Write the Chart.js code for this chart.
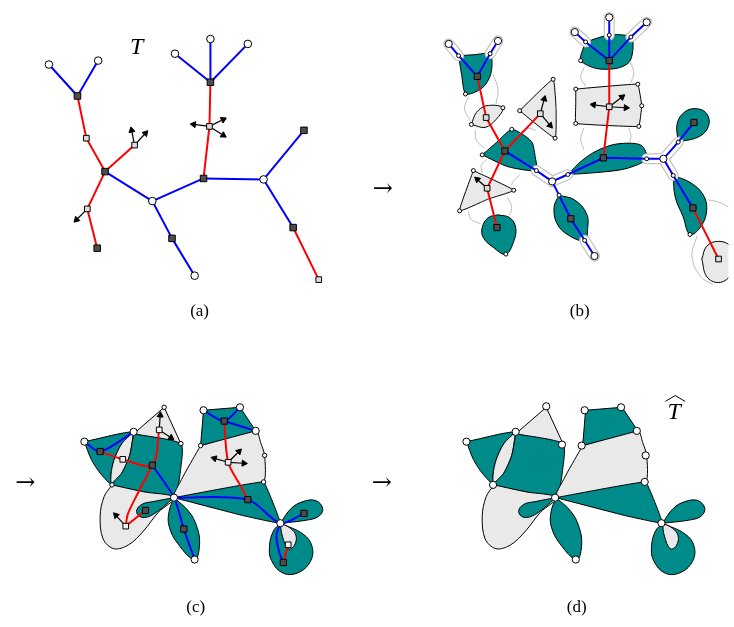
<!DOCTYPE html>
<html lang="en">
<head>
<meta charset="UTF-8">
<title>Tree to map</title>
<script src="https://cdn.jsdelivr.net/npm/chart.js"></script>
<style>
  html, body { margin: 0; padding: 0; background: #fff; }
  canvas { display: block; }
</style>
</head>
<body>
<canvas id="fig" width="734" height="627"></canvas>
<script>
// ---- panel (a): the tree T ----
const aWhite = [[44,60],[94,56],[149,199],[192,275],[172,49],[208,34],[246,39],[262,177]];
const aDark  = [[73,92],[101,169],[93,247],[169,237],[201,176],[208,78],[303,127],[292,226]];
const aLight = [[82,135],[131,142],[83,207],[207,123],[318,279]];
const aBlue = [
  [[44,60],[73,92]], [[94,56],[73,92]], [[101,169],[149,199]], [[149,199],[201,176]],
  [[149,199],[169,237]], [[169,237],[192,275]], [[201,176],[262,177]], [[262,177],[303,127]],
  [[262,177],[292,226]], [[208,78],[172,49]], [[208,78],[208,34]], [[208,78],[246,39]]
];
const aRed = [
  [[73,92],[82,135],[101,169]], [[101,169],[131,142]], [[101,169],[83,207],[93,247]],
  [[208,78],[207,123],[201,176]], [[292,226],[318,279]]
];
const aArrows = [
  [131,142,128,127], [131,142,142,130], [83,207,72,218],
  [207,123,191,121], [207,123,221,116], [207,123,221,132]
];

// ---- panel (b): faces around the tree ----
const bFaceTL   = [[460,51],[476,50],[492,49],[494,60],[492,72],[486,82],[477,88],[467,90],[463,70]];
const bLens     = [[473,121],[478,109],[488,102],[505,104],[498,116],[487,124]];
const bTri      = [[522,107],[556,75],[559,105],[558,135]];
const bCenter   = [[484,152],[500,138],[514,126],[528,133],[535,140],[538,155],[539,168],[510,164]];
const bLowTri   = [[475,168],[516,188],[490,197],[461,209]];
const bDrop     = [[500,213],[512,216],[518,226],[516,240],[508,253],[495,246],[485,236],[484,226],[490,216]];
const bLobeMid  = [[562,193],[578,198],[590,212],[591,228],[588,239],[572,234],[560,222],[557,205]];
const bMiddle   = [[571,172],[585,158],[600,148],[620,141],[645,142],[651,156],[630,166],[600,170]];
const bTop      = [[589,37],[613,30],[635,32],[637,45],[633,58],[620,64],[600,64],[584,56],[586,45]];
const bQuad     = [[579,85],[642,80],[646,102],[643,123],[579,120],[579,100]];
const bLobeTR   = [[683,139],[682,120],[690,108],[702,105],[712,110],[714,122],[705,133]];
const bLobeR    = [[678,173],[695,180],[708,192],[712,208],[706,225],[695,233],[688,215],[680,195]];
const bDisc     = [[707,258],[712,245],[724,240],[736,245],[741,260],[736,275],[724,282],[712,276]];

const bWhiteBig   = [[450,39],[500,36],[578,27],[613,12],[651,17],[555,179],[598,255],[668,156]];
const bWhiteSmall = [[460,51],[492,49],[467,90],[473,121],[505,104],[522,107],[556,75],[558,135],
  [484,152],[514,126],[539,168],[475,168],[516,188],[461,209],[508,253],[571,172],[562,193],[588,239],
  [589,37],[613,30],[635,32],[584,56],[579,85],[642,80],[646,102],[643,123],[579,120],[651,156],
  [683,139],[678,173],[695,233]];
const bDark  = [[479,72],[507,148],[499,226],[574,217],[607,155],[613,56],[699,119],[698,206]];
const bLight = [[488,114],[543,110],[489,186],[613,103],[724,258]];
const bBlue = [
  [[450,39],[460,51],[479,72]], [[500,36],[492,49],[479,72]], [[507,148],[539,168],[555,179],[571,172],[607,155],[651,156],[668,156]],
  [[555,179],[562,193],[574,217],[588,239],[598,255]], [[668,156],[683,139],[699,119]],
  [[668,156],[678,173],[698,206]], [[578,27],[589,37],[613,56]], [[613,12],[613,30],[613,56]], [[651,17],[635,32],[613,56]]
];
const bRed = [
  [[479,72],[488,114],[507,148],[543,110]], [[507,148],[489,186],[499,226]],
  [[613,56],[613,103],[607,155]], [[698,206],[724,258]]
];
const bHalo = [
  [[450,39],[460,51]], [[500,36],[492,49]], [[578,27],[589,37]], [[613,12],[613,30]], [[651,17],[635,32]],
  [[539,168],[555,179],[571,172]], [[588,239],[598,255]], [[651,156],[668,156],[683,139]], [[668,156],[678,173]]
];
const bArrows = [
  [543,110,547,95], [543,110,553,122], [489,186,479,177],
  [613,103,597,101], [613,103,630,104], [613,103,626,93]
];
const bGray = [
  [[470,93],[466,105],[472,117]], [[495,70],[500,85],[498,100]], [[477,127],[478,137],[486,145]],
  [[522,130],[530,125],[538,127]], [[488,157],[483,163],[484,170]], [[522,173],[516,178],[514,182]],
  [[470,210],[473,218],[482,222]], [[510,196],[514,205],[512,213]], [[587,64],[584,73],[589,82]],
  [[634,57],[638,68],[635,78]], [[587,125],[584,136],[587,146]], [[633,125],[635,132],[634,139]],
  [[714,198],[724,200],[734,205]], [[702,235],[697,255],[705,275],[718,284]]
];

// ---- panels (c) and (d): the glued map (same faces, (d) is shifted) ----
const panelShift = [0, 388];
const cFaceL   = [[80,444],[130,434],[118,446],[110,463],[107,478],[108,488],[96,476],[87,462]];
const cLens    = [[130,434],[118,446],[110,463],[107,478],[108,488],[118,476],[126,458]];
const cTopTri  = [[130,436],[161,409],[178,446]];
const cBand    = [[130,436],[178,446],[178,470],[171,501],[140,495],[108,488],[118,476],[126,458]];
const cBigL    = [[108,488],[140,495],[171,501],[155,516],[140,535],[125,549],[110,553],[99,543],[96,520],[100,500]];
const cPetalL  = [[171,501],[150,505],[138,508],[133,515],[138,521],[150,518]];
const cPetalD  = [[171,501],[166,515],[166,530],[175,548],[192,564],[197,548],[194,530],[186,515]];
const cBigR    = [[198,448],[254,433],[259,445],[263,458],[262,485],[240,490],[210,495],[171,501],[180,480],[190,462]];
const cTopR    = [[198,448],[201,412],[238,409],[254,433]];
const cBotR    = [[171,501],[262,485],[279,527],[240,519]];
const cPetalR  = [[279,527],[290,512],[302,505],[315,504],[322,512],[318,520],[305,524]];
const cLoop    = [[279,527],[272,535],[268,550],[270,565],[282,578],[298,577],[310,565],[311,550],[302,538]];
const cLoopIn  = [[279,527],[281,540],[287,553],[293,550],[295,540],[289,532]];

const cWhiteBig   = [[80,444],[130,434],[171,501],[192,564],[201,412],[238,409],[254,433],[279,527]];
const cWhiteSmall = [[161,409],[178,446],[108,488],[198,448],[263,458],[262,485]];
const cDark  = [[96,454],[149,468],[142,514],[181,533],[222,423],[246,503],[303,517],[282,567]];
const cLight = [[119,462],[156,432],[226,465],[122,530],[287,549]];
const cBlue = [
  [[80,444],[96,454],[130,434]], [[149,468],[171,501],[181,533],[192,564]], [[201,412],[222,423],[238,409]],
  [[222,423],[254,433]], [[171,501],[246,503],[279,527],[303,517]], [[279,527],[275,540],[278,557],[282,567]]
];
const cRed = [
  [[96,454],[119,462],[149,468],[156,432]], [[149,468],[134,497],[124,518],[122,530]], [[122,530],[142,514]],
  [[222,423],[226,465],[238,488],[246,503]], [[287,549],[282,567]]
];
const cArrows = [
  [156,432,157,417], [156,432,168,440], [226,465,212,461], [226,465,237,454], [226,465,242,466], [122,530,112,519]
];
const dWhite = [[468,444],[518,434],[549,408],[565,447],[495,488],[558,501],[579,564],[588,412],
  [625,409],[641,433],[585,448],[650,458],[649,485],[666,527]];

const labels = [
  ['(a)', 197, 312], ['(b)', 583, 312], ['(c)', 193, 613], ['(d)', 580, 613]
];
const arrowsText = [[383, 188], [20, 487], [382, 487]];

// ---- build datasets ----
const TEAL = '#008b8b', LIGHT = '#e9e9e9', BLUE = '#0000ff', RED = '#ff0000';
const P = ([x, y]) => ({x, y});
const datasets = [];
let faceOrder = 1000;

function face(pts, color, tension, dx) {
  const shifted = pts.map(([x, y]) => [x + (dx || 0), y]);
  datasets.push({
    data: [...shifted, shifted[0]].map(P), showLine: true, fill: 'shape',
    backgroundColor: color, borderColor: '#000', borderWidth: 1, tension: tension,
    pointRadius: 0, order: faceOrder--
  });
}
function lines(list, color, width, order, tension) {
  list.forEach(pts => datasets.push({
    data: pts.map(P), showLine: true, fill: false, borderColor: color, borderWidth: width,
    borderCapStyle: 'round', tension: tension || 0, pointRadius: 0, order: order
  }));
}
function arrows(list) {
  list.forEach(([fx, fy, tx, ty]) => datasets.push({
    data: [{x: fx, y: fy}, {x: tx, y: ty}], showLine: true, borderColor: '#000', borderWidth: 1.2,
    pointStyle: 'triangle', pointRadius: [0, 3.5], rotation: [0, Math.atan2(tx - fx, -(ty - fy)) * 180 / Math.PI],
    pointBackgroundColor: '#000', pointBorderColor: '#000', pointBorderWidth: 1, order: 50
  }));
}
function nodes(pts, style, r, color) {
  datasets.push({
    data: pts.map(P), showLine: false, pointStyle: style, pointRadius: r,
    pointBackgroundColor: color, pointBorderColor: '#000', pointBorderWidth: 1, order: 10
  });
}

// (b) faces
[[bFaceTL, TEAL, 0.25], [bLens, LIGHT, 0.35], [bTri, LIGHT, 0.1], [bCenter, TEAL, 0.2], [bLowTri, LIGHT, 0.1],
 [bDrop, TEAL, 0.4], [bLobeMid, TEAL, 0.4], [bMiddle, TEAL, 0.3], [bTop, TEAL, 0.3], [bQuad, LIGHT, 0.05],
 [bLobeTR, TEAL, 0.4], [bLobeR, TEAL, 0.4], [bDisc, LIGHT, 0.4]].forEach(([f, c, t]) => face(f, c, t, 0));

// (c) and (d) faces
panelShift.forEach(dx => {
  [[cFaceL, TEAL, 0.3], [cLens, LIGHT, 0.3], [cTopTri, LIGHT, 0], [cBand, TEAL, 0.2], [cBigL, LIGHT, 0.35],
   [cPetalL, TEAL, 0.4], [cPetalD, TEAL, 0.4], [cBigR, LIGHT, 0.25], [cTopR, TEAL, 0], [cBotR, TEAL, 0.05],
   [cPetalR, TEAL, 0.4], [cLoop, TEAL, 0.4], [cLoopIn, LIGHT, 0.4]].forEach(([f, c, t]) => face(f, c, t, dx));
});

lines(bGray, '#bdbdbd', 1, 300, 0.4);
lines(bHalo, '#c4c4c4', 11, 200);
lines(bHalo, '#ffffff', 8.5, 199);
lines(aBlue, BLUE, 2, 100); lines(aRed, RED, 2, 100);
lines(bBlue, BLUE, 2, 100); lines(bRed, RED, 2, 100);
lines(cBlue, BLUE, 2, 100, 0.3); lines(cRed, RED, 2, 100, 0.3);
arrows(aArrows); arrows(bArrows); arrows(cArrows);

nodes(aWhite, 'circle', 3.8, '#fff');
nodes(aDark, 'rect', 4.6, '#4d4d4d');
nodes(aLight, 'rect', 4, '#dcdcdc');
nodes(bWhiteBig, 'circle', 3.6, '#fff');
nodes(bWhiteSmall, 'circle', 2, '#fff');
nodes(bDark, 'rect', 4.4, '#4d4d4d');
nodes(bLight, 'rect', 4, '#dcdcdc');
nodes(cWhiteBig, 'circle', 3.6, '#fff');
nodes(cWhiteSmall, 'circle', 2.2, '#fff');
nodes(cDark, 'rect', 4.4, '#4d4d4d');
nodes(cLight, 'rect', 4, '#f2f2f2');
nodes(dWhite, 'circle', 3.6, '#fff');

const textPlugin = {
  id: 'texts',
  afterDatasetsDraw(chart) {
    const {ctx, scales: {x, y}} = chart;
    ctx.save();
    ctx.fillStyle = '#000';
    ctx.textAlign = 'center';
    ctx.textBaseline = 'middle';
    ctx.font = '17px "Liberation Serif", "DejaVu Serif", serif';
    labels.forEach(([t, px, py]) => ctx.fillText(t, x.getPixelForValue(px), y.getPixelForValue(py)));
    ctx.font = '24px "DejaVu Serif", serif';
    arrowsText.forEach(([px, py]) => ctx.fillText('\u2192', x.getPixelForValue(px), y.getPixelForValue(py)));
    ctx.font = 'italic 24px "Liberation Serif", "DejaVu Serif", serif';
    ctx.fillText('T', x.getPixelForValue(133), y.getPixelForValue(43));
    ctx.fillText('T', x.getPixelForValue(679), y.getPixelForValue(414));
    // wide hat over the second T
    ctx.beginPath();
    ctx.lineWidth = 1;
    ctx.moveTo(x.getPixelForValue(670), y.getPixelForValue(403));
    ctx.lineTo(x.getPixelForValue(680), y.getPixelForValue(397));
    ctx.lineTo(x.getPixelForValue(690), y.getPixelForValue(403));
    ctx.stroke();
    ctx.restore();
  }
};

new Chart(document.getElementById('fig'), {
  type: 'scatter',
  data: { datasets },
  options: {
    responsive: false,
    animation: false,
    events: [],
    layout: { padding: 0 },
    scales: {
      x: { type: 'linear', min: 0, max: 734, display: false },
      y: { type: 'linear', min: 0, max: 627, reverse: true, display: false }
    },
    plugins: { legend: { display: false }, tooltip: { enabled: false } }
  },
  plugins: [textPlugin]
});
</script>
</body>
</html>
